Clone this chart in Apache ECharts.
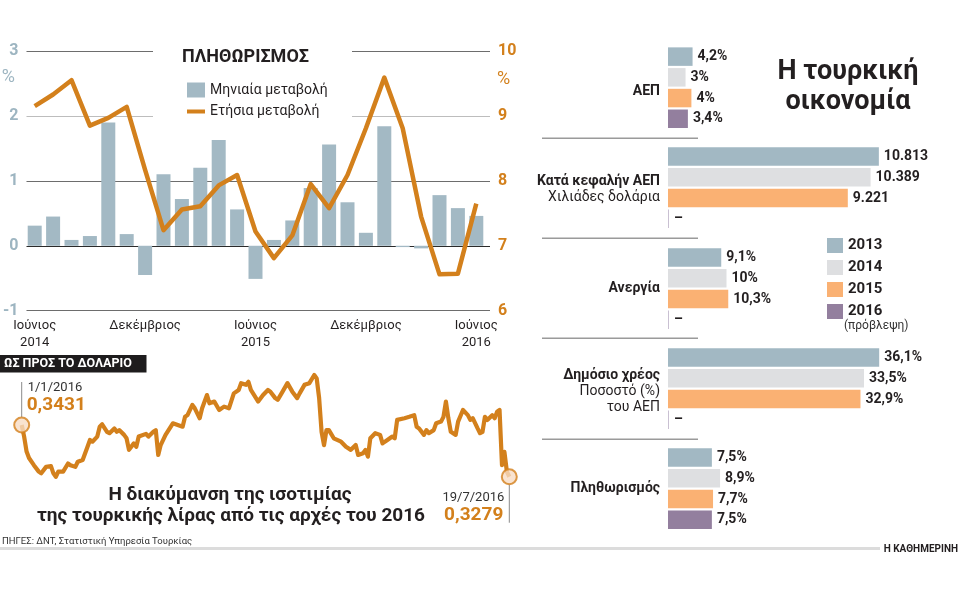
<!DOCTYPE html>
<html>
<head>
<meta charset="utf-8">
<script src="https://cdn.jsdelivr.net/npm/echarts@6/dist/echarts.min.js"></script>
<style>
  html, body { margin: 0; padding: 0; background: #fff; }
  #chart { width: 960px; height: 600px; }
</style>
</head>
<body>
<div id="chart"></div>
<script>
// --- Πληθωρισμός: μηνιαία / ετήσια μεταβολή (%) ---
const months = ['2014-06','2014-07','2014-08','2014-09','2014-10','2014-11','2014-12',
  '2015-01','2015-02','2015-03','2015-04','2015-05','2015-06','2015-07','2015-08','2015-09','2015-10','2015-11','2015-12',
  '2016-01','2016-02','2016-03','2016-04','2016-05','2016-06'];
const monthTicks = {
  '2014-06': 'Ιούνιος\n2014', '2014-12': 'Δεκέμβριος',
  '2015-06': 'Ιούνιος\n2015', '2015-12': 'Δεκέμβριος',
  '2016-06': 'Ιούνιος\n2016'
};
const monthlyChange = [0.31, 0.45, 0.09, 0.15, 1.90, 0.18, -0.45, 1.10, 0.72, 1.20, 1.63, 0.56, -0.51,
  0.09, 0.39, 0.89, 1.56, 0.67, 0.20, 1.84, -0.02, -0.04, 0.78, 0.58, 0.46];
const annualChange = [9.15, 9.33, 9.55, 8.85, 8.97, 9.14, 8.17, 7.24, 7.56, 7.61, 7.93, 8.09, 7.22,
  6.81, 7.16, 7.95, 7.58, 8.09, 8.81, 9.59, 8.81, 7.45, 6.56, 6.57, 7.65];
const leftTicks = [-1, 0, 1, 2, 3];
const rightTicks = [6, 7, 8, 9, 10];

// --- Ισοτιμία λίρας / δολαρίου (μέρες από 1/1/2016) ---
const fxDays = [0, 1, 2, 3, 5, 7, 8, 10, 12, 13,
  14, 15, 17, 19, 20, 22, 23, 25, 27, 28,
  29, 31, 32, 33, 35, 36, 38, 39, 40, 42,
  43, 44, 46, 47, 48, 51, 52, 54, 55, 56,
  57, 59, 62, 64, 66, 67, 68, 70, 71, 73,
  74, 76, 77, 79, 81, 83, 85, 87, 89, 90,
  92, 93, 94, 97, 99, 101, 102, 104, 105, 107,
  109, 111, 113, 114, 116, 118, 120, 121, 122, 123,
  124, 125, 126, 128, 131, 133, 135, 137, 138, 140,
  141, 142, 143, 145, 147, 148, 150, 152, 153, 154,
  157, 159, 161, 162, 163, 165, 166, 167, 169, 170,
  172, 173, 174, 175, 176, 178, 179, 181, 183, 184,
  185, 187, 188, 189, 190, 191, 193, 194, 195, 196,
  197, 198, 199, 200];
const fxValues = [0.3431, 0.3397, 0.3353, 0.3334, 0.3313, 0.3294, 0.3289, 0.3308, 0.3310, 0.3289,
  0.3279, 0.3294, 0.3294, 0.3318, 0.3313, 0.3308, 0.3323, 0.3328, 0.3367, 0.3387,
  0.3382, 0.3397, 0.3426, 0.3433, 0.3411, 0.3407, 0.3421, 0.3411, 0.3416, 0.3402,
  0.3392, 0.3358, 0.3377, 0.3367, 0.3397, 0.3405, 0.3397, 0.3411, 0.3416, 0.3343,
  0.3372, 0.3402, 0.3436, 0.3431, 0.3426, 0.3455, 0.3460, 0.3490, 0.3480, 0.3451,
  0.3480, 0.3519, 0.3495, 0.3500, 0.3475, 0.3485, 0.3480, 0.3524, 0.3534, 0.3554,
  0.3549, 0.3558, 0.3534, 0.3500, 0.3519, 0.3534, 0.3529, 0.3510, 0.3505, 0.3529,
  0.3554, 0.3529, 0.3510, 0.3524, 0.3549, 0.3554, 0.3578, 0.3568, 0.3510, 0.3411,
  0.3372, 0.3416, 0.3416, 0.3392, 0.3382, 0.3367, 0.3358, 0.3372, 0.3343, 0.3348,
  0.3358, 0.3338, 0.3392, 0.3407, 0.3402, 0.3377, 0.3387, 0.3397, 0.3392, 0.3446,
  0.3451, 0.3455, 0.3460, 0.3426, 0.3421, 0.3402, 0.3416, 0.3407, 0.3416, 0.3436,
  0.3441, 0.3455, 0.3500, 0.3451, 0.3411, 0.3402, 0.3441, 0.3475, 0.3460, 0.3446,
  0.3451, 0.3421, 0.3407, 0.3411, 0.3455, 0.3446, 0.3460, 0.3451, 0.3470, 0.3475,
  0.3313, 0.3352, 0.3294, 0.3279];
const fxStartDate = '1/1/2016';
const fxEndDate = '19/7/2016';

// --- Η τουρκική οικονομία ---
const indicators = ['ΑΕΠ', 'Κατά κεφαλήν ΑΕΠ', 'Ανεργία', 'Δημόσιο χρέος', 'Πληθωρισμός'];
const years = ['2013', '2014', '2015', '2016'];
const values2013 = [4.2, 10.813, 9.1, 36.1, 7.5];
const values2014 = [3, 10.389, 10, 33.5, 8.9];
const values2015 = [4, 9.221, 10.3, 32.9, 7.7];
const values2016 = [3.4, null, null, null, 7.5];

const FONT = 'Roboto';
const DARK = '#231f20';
const ORANGE = '#d3801c';
const STEEL = '#a3b9c4';
const AXIS_BLUE = '#9db5c1';
const yearColors = ['#a2b8c3', '#dedfe1', '#fab173', '#937f9e'];
const EMPTY_COLOR = '#c9c0d2';

const sectionTops = [46.2, 146.2, 247.2, 347.2, 447.2];
const sectionMax = [40, 12, 40, 40, 40];
const fmtPct = v => String(v).replace('.', ',') + '%';
const fmtThousand = v => v.toFixed(3);
const sectionFmt = [fmtPct, fmtThousand, fmtPct, fmtPct, fmtPct];

const chart = echarts.init(document.getElementById('chart'));

const grids = [
  { left: 25.5, top: 51, width: 460, height: 259.7 },   // πληθωρισμός, δεδομένα
  { left: 21, top: 51, width: 469, height: 259.7 },     // πληθωρισμός, γραμμές πλέγματος
  { left: 21.7, top: 367.5, width: 487.6, height: 119.1 } // ισοτιμία
];
const xAxes = [
  { type: 'category', gridIndex: 0, data: months,
    axisLine: { show: false, onZero: false }, axisTick: { show: false },
    axisLabel: { interval: 0, formatter: v => monthTicks[v] || '', color: DARK,
      fontFamily: FONT, fontSize: 13, lineHeight: 17, margin: 7 } },
  { type: 'value', gridIndex: 1, min: 0, max: 1, show: false },
  { type: 'value', gridIndex: 2, min: 0, max: 200, show: false }
];
const yAxes = [
  { type: 'value', gridIndex: 0, min: leftTicks[0], max: leftTicks[leftTicks.length - 1], interval: 1, show: false },
  { type: 'value', gridIndex: 0, min: rightTicks[0], max: rightTicks[rightTicks.length - 1], interval: 1, show: false },
  { type: 'value', gridIndex: 1, position: 'left', min: leftTicks[0], max: leftTicks[leftTicks.length - 1], interval: 1,
    axisLine: { show: false }, axisTick: { show: false },
    axisLabel: { color: AXIS_BLUE, fontFamily: FONT, fontWeight: 'bold', fontSize: 16, margin: 8 },
    splitLine: { show: true, lineStyle: { color: ['#6d6d6d', '#2a2a2a', '#6d6d6d', '#bdbdbd', '#6d6d6d'], width: 1 } } },
  { type: 'value', gridIndex: 1, position: 'right', min: rightTicks[0], max: rightTicks[rightTicks.length - 1], interval: 1,
    axisLine: { show: false }, axisTick: { show: false }, splitLine: { show: false },
    axisLabel: { color: ORANGE, fontFamily: FONT, fontWeight: 'bold', fontSize: 16, margin: 8 } },
  { type: 'value', gridIndex: 2, min: 0.325, max: 0.36, show: false }
];

const series = [
  { name: 'Μηνιαία μεταβολή', type: 'bar', xAxisIndex: 0, yAxisIndex: 0, data: monthlyChange,
    barWidth: 14, itemStyle: { color: STEEL }, z: 2 },
  { name: 'Ετήσια μεταβολή', type: 'line', xAxisIndex: 0, yAxisIndex: 1, data: annualChange,
    symbol: 'none', lineStyle: { color: ORANGE, width: 4.5, join: 'round' }, itemStyle: { color: ORANGE }, z: 3 },
  { name: 'fx', type: 'line', xAxisIndex: 2, yAxisIndex: 4,
    data: fxDays.map((d, i) => [d, fxValues[i]]),
    symbol: 'none', lineStyle: { color: ORANGE, width: 4.2, join: 'round' }, z: 3 },
  { name: 'fxEnds', type: 'scatter', xAxisIndex: 2, yAxisIndex: 4,
    data: [[fxDays[0], fxValues[0]], [fxDays[fxDays.length - 1], fxValues[fxValues.length - 1]]],
    symbolSize: 15, itemStyle: { color: '#f8dcc4', borderColor: ORANGE, borderWidth: 2 }, z: 5 }
];

const yearValues = [values2013, values2014, values2015, values2016];
indicators.forEach((name, i) => {
  grids.push({ left: 668, top: sectionTops[i], width: 234, height: 83 });
  xAxes.push({ type: 'value', gridIndex: 3 + i, min: 0, max: sectionMax[i], show: false });
  yAxes.push({ type: 'category', gridIndex: 3 + i, data: [name], show: false });
  years.forEach((yr, j) => {
    const v = yearValues[j][i];
    series.push({
      name: yr, type: 'bar', xAxisIndex: 3 + i, yAxisIndex: 5 + i,
      barWidth: 18.5, barGap: '12%', barMinHeight: 1,
      itemStyle: { color: yearColors[j] },
      data: [v == null ? { value: 0, itemStyle: { color: EMPTY_COLOR } } : v],
      label: { show: true, position: 'right', distance: 5, color: DARK, fontFamily: FONT,
        fontWeight: 'bold', fontSize: 14,
        formatter: p => (p.value === 0 ? '–' : sectionFmt[i](p.value)) }
    });
  });
});

chart.setOption({
  animation: false,
  textStyle: { fontFamily: FONT },
  grid: grids,
  xAxis: xAxes,
  yAxis: yAxes,
  legend: [
    { left: 182, top: 77.5, orient: 'vertical', itemWidth: 18, itemHeight: 15, itemGap: 7,
      selectedMode: false, textStyle: { fontFamily: FONT, fontSize: 14, color: DARK },
      data: [{ name: 'Μηνιαία μεταβολή', icon: 'rect' },
             { name: 'Ετήσια μεταβολή', icon: 'path://M0,0H18V4H0Z' }] },
    { left: 822, top: 233, orient: 'vertical', itemWidth: 16, itemHeight: 15, itemGap: 7,
      selectedMode: false, textStyle: { fontFamily: FONT, fontSize: 15, fontWeight: 'bold', color: DARK },
      data: years.map(y => ({ name: y, icon: 'rect' })) }
  ],
  series: series
});

// --- κείμενα και διακοσμητικά ---
function txt(x, y, text, font, fill, align) {
  return { type: 'text', x: x, y: y, z: 10, silent: true,
    style: { text: text, font: font, fill: fill, align: align || 'left', textAlign: align || 'left',
      verticalAlign: 'middle', textVerticalAlign: 'middle' } };
}
function hline(x1, x2, y, color, w) {
  return { type: 'line', z: 3, silent: true, shape: { x1: x1, y1: y, x2: x2, y2: y },
    style: { stroke: color, lineWidth: w } };
}
function vline(x, y1, y2) {
  return { type: 'line', z: 4, silent: true, shape: { x1: x, y1: y1, x2: x, y2: y2 },
    style: { stroke: '#8a8a8a', lineWidth: 1 } };
}

const p0 = chart.convertToPixel({ gridIndex: 2 }, [fxDays[0], fxValues[0]]);
const p1 = chart.convertToPixel({ gridIndex: 2 }, [fxDays[fxDays.length - 1], fxValues[fxValues.length - 1]]);
const fmtFx = v => v.toFixed(4).replace('.', ',');

const g = [
  // λευκό φόντο πίσω από τίτλο / υπόμνημα
  { type: 'rect', z: 3, silent: true, shape: { x: 153, y: 44, width: 199, height: 80 }, style: { fill: '#fff' } },
  txt(182, 57, 'ΠΛΗΘΩΡΙΣΜΟΣ', 'bold 18px ' + FONT, DARK),
  txt(15, 77.5, '%', '18px ' + FONT, AXIS_BLUE, 'right'),
  txt(497, 79, '%', '18px ' + FONT, ORANGE),

  // ισοτιμία
  { type: 'rect', z: 3, silent: true, shape: { x: 0, y: 355, width: 146.5, height: 17.5 }, style: { fill: '#1e1c1d' } },
  txt(4, 364, 'ΩΣ ΠΡΟΣ ΤΟ ΔΟΛΑΡΙΟ', 'bold 12.5px ' + FONT, '#fff'),
  vline(p0[0], p0[1] - 8, p0[1] - 43),
  txt(p0[0] + 6, p0[1] - 37, fxStartDate, '13px ' + FONT, '#333'),
  txt(p0[0] + 5, p0[1] - 20, fmtFx(fxValues[0]), 'bold 19px ' + FONT, ORANGE),
  vline(p1[0], p1[1] + 8, p1[1] + 46),
  txt(p1[0] - 5, p1[1] + 21, fxEndDate, '13px ' + FONT, '#333', 'right'),
  txt(p1[0] - 6, p1[1] + 39, fmtFx(fxValues[fxValues.length - 1]), 'bold 19px ' + FONT, ORANGE, 'right'),
  txt(230, 495, 'Η διακύμανση της ισοτιμίας', 'bold 19px ' + FONT, DARK, 'center'),
  txt(231, 516, 'της τουρκικής λίρας από τις αρχές του 2016', 'bold 19px ' + FONT, DARK, 'center'),
  txt(2, 542, 'ΠΗΓΕΣ: ΔΝΤ, Στατιστική Υπηρεσία Τουρκίας', '9.5px ' + FONT, '#333'),
  hline(0, 880, 548.5, '#dcdcdc', 3),
  txt(958, 549, 'Η ΚΑΘΗΜΕΡΙΝΗ', 'bold 10px ' + FONT, DARK, 'right'),

  // Η τουρκική οικονομία
  txt(848, 72, 'Η τουρκική', 'bold 27px ' + FONT, DARK, 'center'),
  txt(848, 102, 'οικονομία', 'bold 27px ' + FONT, DARK, 'center'),
  txt(844, 326, '(πρόβλεψη)', '12px ' + FONT, '#333'),
  hline(542, 698, 138.3, '#9a9a9a', 1.5),
  hline(542, 698, 238.3, '#9a9a9a', 1.5),
  hline(542, 698, 338.3, '#9a9a9a', 1.5),
  hline(542, 698, 439.3, '#9a9a9a', 1.5),
  txt(660, 91.5, indicators[0], 'bold 14px ' + FONT, DARK, 'right'),
  txt(660, 181.5, indicators[1], 'bold 14px ' + FONT, DARK, 'right'),
  txt(660, 197, 'Χιλιάδες δολάρια', '14px ' + FONT, DARK, 'right'),
  txt(660, 288.5, indicators[2], 'bold 14px ' + FONT, DARK, 'right'),
  txt(660, 375, indicators[3], 'bold 14px ' + FONT, DARK, 'right'),
  txt(660, 391.5, 'Ποσοστό (%)', '14px ' + FONT, DARK, 'right'),
  txt(660, 407, 'του ΑΕΠ', '14px ' + FONT, DARK, 'right'),
  txt(660, 488.5, indicators[4], 'bold 14px ' + FONT, DARK, 'right')
];

chart.setOption({ graphic: { elements: g } });
</script>
</body>
</html>
